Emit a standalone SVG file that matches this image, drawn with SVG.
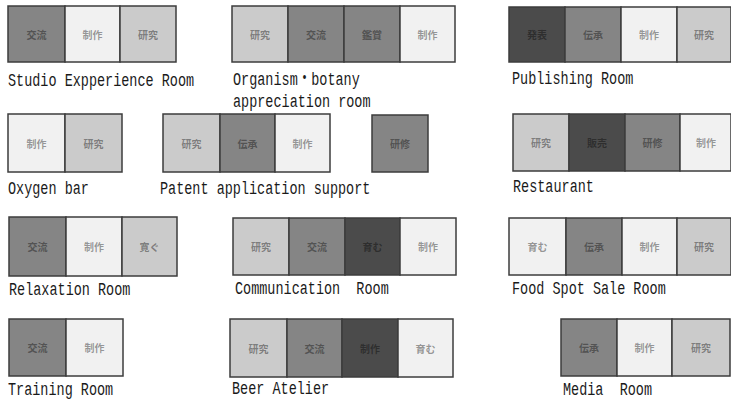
<svg xmlns="http://www.w3.org/2000/svg" width="731" height="405" viewBox="0 0 731 405">
<style>
rect{stroke:#3c3c3c;stroke-width:1.5}
.w{fill:#f1f1f1}.l{fill:#cbcbcb}.m{fill:#858585}.d{fill:#4b4b4b}
.t{font-family:"Noto Sans CJK JP","Noto Sans CJK SC",sans-serif;font-size:10px;font-weight:bold;fill:#000;fill-opacity:0.4;text-anchor:middle;dominant-baseline:central}
.lb{font-family:"Liberation Mono","Noto Sans CJK JP",monospace;font-size:19px;fill:#1a1a1a;white-space:pre}
</style>
<rect x="0" y="0" width="731" height="405" fill="#fff" style="stroke:none"/>
<g id="studio">
<rect class="m" x="8" y="6" width="57" height="56"/><rect class="w" x="65" y="6" width="55" height="56"/><rect class="l" x="120" y="6" width="56" height="56"/>
<text class="t" x="36.5" y="34">交流</text><text class="t" x="92.5" y="34">制作</text><text class="t" x="148" y="34">研究</text>
<text class="lb" xml:space="preserve" transform="translate(8,86) scale(0.71,1)">Studio Expperience Room</text>
</g>
<g id="organism">
<rect class="l" x="232" y="6" width="56" height="56"/><rect class="m" x="288" y="6" width="56" height="56"/><rect class="m" x="344" y="6" width="56" height="56"/><rect class="w" x="400" y="6" width="55" height="56"/>
<text class="t" x="260" y="34">研究</text><text class="t" x="316" y="34">交流</text><text class="t" x="372" y="34">鑑賞</text><text class="t" x="427.5" y="34">制作</text>
<text class="lb" xml:space="preserve" transform="translate(233,85) scale(0.71,1)">Organism・botany</text>
<text class="lb" xml:space="preserve" transform="translate(233,107) scale(0.71,1)">appreciation room</text>
</g>
<g id="publishing">
<rect class="d" x="509" y="7" width="56" height="55"/><rect class="m" x="565" y="7" width="56" height="55"/><rect class="w" x="621" y="7" width="56" height="55"/><rect class="l" x="677" y="7" width="54" height="55"/>
<text class="t" x="537" y="34.5">発表</text><text class="t" x="593" y="34.5">伝承</text><text class="t" x="649" y="34.5">制作</text><text class="t" x="704" y="34.5">研究</text>
<text class="lb" xml:space="preserve" transform="translate(512,84) scale(0.71,1)">Publishing Room</text>
</g>
<g id="oxygen">
<rect class="w" x="8" y="114" width="57" height="58"/><rect class="l" x="65" y="114" width="57" height="58"/>
<text class="t" x="36.5" y="143">制作</text><text class="t" x="93.5" y="143">研究</text>
<text class="lb" xml:space="preserve" transform="translate(8,194) scale(0.71,1)">Oxygen bar</text>
</g>
<g id="patent">
<rect class="l" x="163" y="114" width="57" height="58"/><rect class="m" x="220" y="114" width="55" height="58"/><rect class="w" x="275" y="114" width="55" height="58"/>
<text class="t" x="191.5" y="143">研究</text><text class="t" x="247.5" y="143">伝承</text><text class="t" x="302.5" y="143">制作</text>
<text class="lb" xml:space="preserve" transform="translate(160,194) scale(0.71,1)">Patent application support</text>
</g>
<g id="single">
<rect class="m" x="372" y="115" width="56" height="57"/>
<text class="t" x="400" y="143.5">研修</text>
</g>
<g id="restaurant">
<rect class="l" x="513" y="114" width="56" height="57"/><rect class="d" x="569" y="114" width="56" height="57"/><rect class="m" x="625" y="114" width="55" height="57"/><rect class="w" x="680" y="114" width="51" height="57"/>
<text class="t" x="541" y="142.5">研究</text><text class="t" x="597" y="142.5">販売</text><text class="t" x="652.5" y="142.5">研修</text><text class="t" x="706" y="142.5">制作</text>
<text class="lb" xml:space="preserve" transform="translate(513,192) scale(0.71,1)">Restaurant</text>
</g>
<g id="relaxation">
<rect class="m" x="9" y="217" width="57" height="59"/><rect class="w" x="66" y="217" width="56" height="59"/><rect class="l" x="122" y="217" width="55" height="59"/>
<text class="t" x="37.5" y="246.5">交流</text><text class="t" x="94" y="246.5">制作</text><text class="t" x="149.5" y="246.5">寛ぐ</text>
<text class="lb" xml:space="preserve" transform="translate(9,295) scale(0.71,1)">Relaxation Room</text>
</g>
<g id="communication">
<rect class="l" x="233" y="218" width="56" height="57"/><rect class="m" x="289" y="218" width="56" height="57"/><rect class="d" x="345" y="218" width="55" height="57"/><rect class="w" x="400" y="218" width="56" height="57"/>
<text class="t" x="261" y="246.5">研究</text><text class="t" x="317" y="246.5">交流</text><text class="t" x="372.5" y="246.5">育む</text><text class="t" x="428" y="246.5">制作</text>
<text class="lb" xml:space="preserve" transform="translate(235,294) scale(0.71,1)">Communication  Room</text>
</g>
<g id="food">
<rect class="w" x="509" y="218" width="57" height="57"/><rect class="m" x="566" y="218" width="56" height="57"/><rect class="w" x="622" y="218" width="55" height="57"/><rect class="l" x="677" y="218" width="54" height="57"/>
<text class="t" x="537.5" y="246.5">育む</text><text class="t" x="594" y="246.5">伝承</text><text class="t" x="649.5" y="246.5">制作</text><text class="t" x="704" y="246.5">研究</text>
<text class="lb" xml:space="preserve" transform="translate(512,294) scale(0.71,1)">Food Spot Sale Room</text>
</g>
<g id="training">
<rect class="m" x="9" y="319" width="57" height="57"/><rect class="w" x="66" y="319" width="57" height="57"/>
<text class="t" x="37.5" y="347.5">交流</text><text class="t" x="94.5" y="347.5">制作</text>
<text class="lb" xml:space="preserve" transform="translate(8,395) scale(0.71,1)">Training Room</text>
</g>
<g id="beer">
<rect class="l" x="230" y="319" width="57" height="58"/><rect class="m" x="287" y="319" width="55" height="58"/><rect class="d" x="342" y="319" width="56" height="58"/><rect class="w" x="398" y="319" width="55" height="58"/>
<text class="t" x="258.5" y="348">研究</text><text class="t" x="314.5" y="348">交流</text><text class="t" x="370" y="348">制作</text><text class="t" x="425.5" y="348">育む</text>
<text class="lb" xml:space="preserve" transform="translate(232,394) scale(0.71,1)">Beer Atelier</text>
</g>
<g id="media">
<rect class="m" x="561" y="319" width="56" height="57"/><rect class="w" x="617" y="319" width="55" height="57"/><rect class="l" x="672" y="319" width="58" height="57"/>
<text class="t" x="589" y="347.5">伝承</text><text class="t" x="644.5" y="347.5">制作</text><text class="t" x="701" y="347.5">研究</text>
<text class="lb" xml:space="preserve" transform="translate(563,395) scale(0.71,1)">Media  Room</text>
</g>
<g id="connectors"/>
</svg>
